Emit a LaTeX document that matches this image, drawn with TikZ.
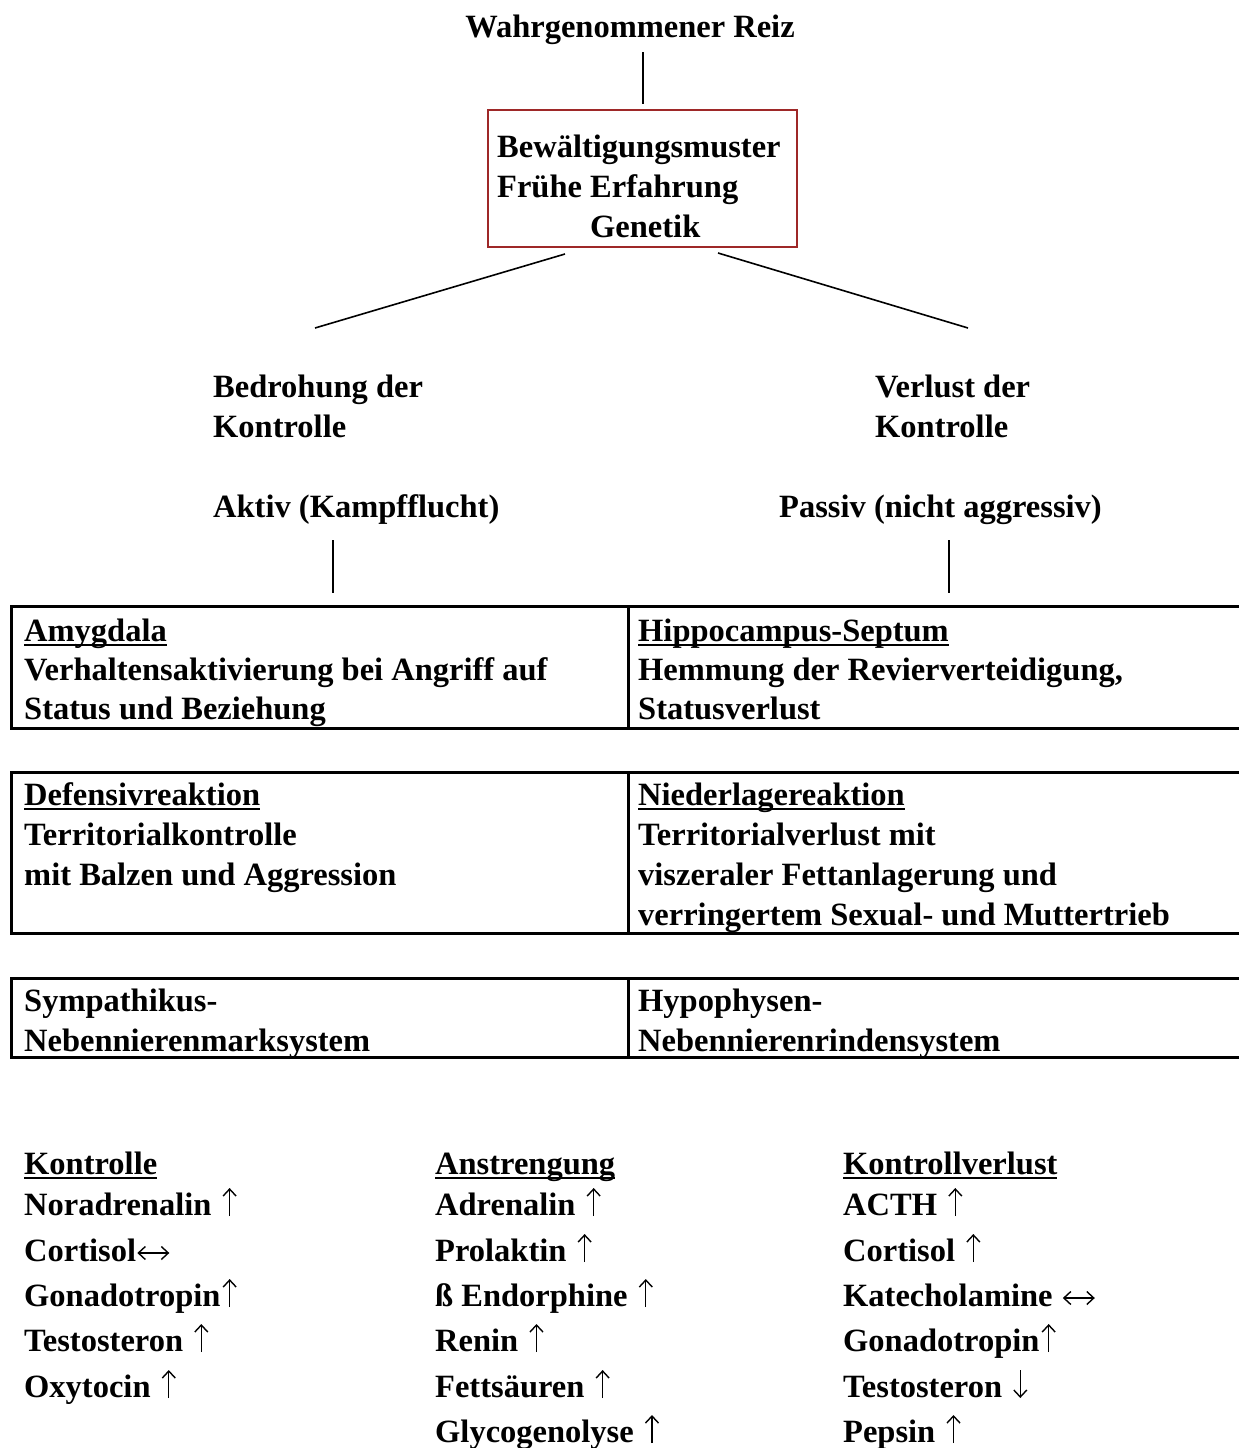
\documentclass[tikz,border=0pt]{standalone}
\usepackage{fontspec}
\setmainfont{Liberation Serif}
\usetikzlibrary{arrows.meta,calc}
\definecolor{boxred}{RGB}{158,40,40}
\newcommand\myul[1]{\setbox0\hbox{#1}\rlap{\rule[-5pt]{\wd0}{2.4pt}}\box0}
\begin{document}
\begin{tikzpicture}[x=1pt,y=-1pt,
  txt/.style={anchor=base west,inner sep=0pt,font=\bfseries\fontsize{32.5}{40}\selectfont},
  conn/.style={line width=1.6pt},
  frame/.style={line width=3pt},
  arr/.style={line width=1.4pt,-{Straight Barb[length=7pt,width=13pt,line width=1.4pt]}},
  arrlr/.style={line width=1.4pt,{Straight Barb[length=7pt,width=13pt,line width=1.4pt]}-{Straight Barb[length=7pt,width=13pt,line width=1.4pt]}}]
\useasboundingbox (0,0) rectangle (1239,1448);
\fill[white] (0,0) rectangle (1239,1448);

% top
\node[txt,anchor=base] (reiz) at (630,37) {Wahrgenommener Reiz};
\coordinate (t1) at (643,52);
\coordinate (t2) at (643,104);
\draw[conn] (t1) -- (t2);

\node[draw=boxred,line width=1.8pt,minimum width=309pt,minimum height=137pt,anchor=north west,inner sep=0pt] (box) at (487,109) {};
\node[txt] (b1) at (497,157) {Bewältigungsmuster};
\node[txt] (b2) at (497,197) {Frühe Erfahrung};
\node[txt] (b3) at (590,237) {Genetik};

\coordinate (d1a) at (565,254);
\coordinate (d1b) at (315,328);
\coordinate (d2a) at (718,253);
\coordinate (d2b) at (968,328);
\draw[conn] (d1a) -- (d1b);
\draw[conn] (d2a) -- (d2b);

\node[txt] (l1) at (213,397) {Bedrohung der};
\node[txt] (l2) at (213,437) {Kontrolle};
\node[txt] (l3) at (213,517) {Aktiv (Kampfflucht)};
\node[txt] (r1) at (875,397) {Verlust der};
\node[txt] (r2) at (875,437) {Kontrolle};
\node[txt] (r3) at (779,517) {Passiv (nicht aggressiv)};

\coordinate (v1a) at (333,540);
\coordinate (v1b) at (333,593);
\coordinate (v2a) at (949,540);
\coordinate (v2b) at (949,593);
\draw[conn] (v1a) -- (v1b);
\draw[conn] (v2a) -- (v2b);

% tables
\draw[frame] (1245,606) -- (11.5,606) -- (11.5,728) -- (1245,728);
\draw[frame] (628,606) -- (628,728);
\draw[frame] (1245,772) -- (11.5,772) -- (11.5,933) -- (1245,933);
\draw[frame] (628,772) -- (628,933);
\draw[frame] (1245,978) -- (11.5,978) -- (11.5,1057) -- (1245,1057);
\draw[frame] (628,978) -- (628,1057);

\node[txt] (a1) at (24,641) {\myul{Amygdala}};
\node[txt] (a2) at (24,680) {Verhaltensaktivierung bei Angriff auf};
\node[txt] (a3) at (24,719) {Status und Beziehung};
\node[txt] (h1) at (638,641) {\myul{Hippocampus-Septum}};
\node[txt] (h2) at (638,680) {Hemmung der Revierverteidigung,};
\node[txt] (h3) at (638,719) {Statusverlust};

\node[txt] (e1) at (24,805) {\myul{Defensivreaktion}};
\node[txt] (e2) at (24,845) {Territorialkontrolle};
\node[txt] (e3) at (24,885) {mit Balzen und Aggression};
\node[txt] (n1) at (638,805) {\myul{Niederlagereaktion}};
\node[txt] (n2) at (638,845) {Territorialverlust mit};
\node[txt] (n3) at (638,885) {viszeraler Fettanlagerung und};
\node[txt] (n4) at (638,925) {verringertem Sexual- und Muttertrieb};

\node[txt] (s1) at (24,1011) {Sympathikus-};
\node[txt] (s2) at (24,1051) {Nebennierenmarksystem};
\node[txt] (p1) at (638,1011) {Hypophysen-};
\node[txt] (p2) at (638,1051) {Nebennierenrindensystem};

% lists
\node[txt] (k0) at (24,1174) {\myul{Kontrolle}};
\node[txt] (k1) at (24,1215) {Noradrenalin};
\node[txt] (k2) at (24,1261) {Cortisol};
\node[txt] (k3) at (24,1306) {Gonadotropin};
\node[txt] (k4) at (24,1351) {Testosteron};
\node[txt] (k5) at (24,1397) {Oxytocin};

\node[txt] (m0) at (435,1174) {\myul{Anstrengung}};
\node[txt] (m1) at (435,1215) {Adrenalin};
\node[txt] (m2) at (435,1261) {Prolaktin};
\node[txt] (m3) at (435,1306) {ß Endorphine};
\node[txt] (m4) at (435,1351) {Renin};
\node[txt] (m5) at (435,1397) {Fettsäuren};
\node[txt] (m6) at (435,1442) {Glycogenolyse};

\node[txt] (c0) at (843,1174) {\myul{Kontrollverlust}};
\node[txt] (c1) at (843,1215) {ACTH};
\node[txt] (c2) at (843,1261) {Cortisol};
\node[txt] (c3) at (843,1306) {Katecholamine};
\node[txt] (c4) at (843,1351) {Gonadotropin};
\node[txt] (c5) at (843,1397) {Testosteron};
\node[txt] (c6) at (843,1442) {Pepsin};

% trend arrows
\foreach \n in {k1,k4,k5,m1,m2,m3,m4,m5,m6,c1,c2,c6}
  \draw[arr] ($(\n.base east)+(18,1)$) -- ++(0,-28);
\foreach \n in {k3,c4}
  \draw[arr] ($(\n.base east)+(9,1)$) -- ++(0,-28);
\draw[arr] ($(c5.base east)+(18,-27)$) -- ++(0,28);
\draw[arrlr] ($(k2.base east)+(1,-8)$) -- ++(32,0);
\draw[arrlr] ($(c3.base east)+(10,-8)$) -- ++(32,0);
\end{tikzpicture}
\end{document}
